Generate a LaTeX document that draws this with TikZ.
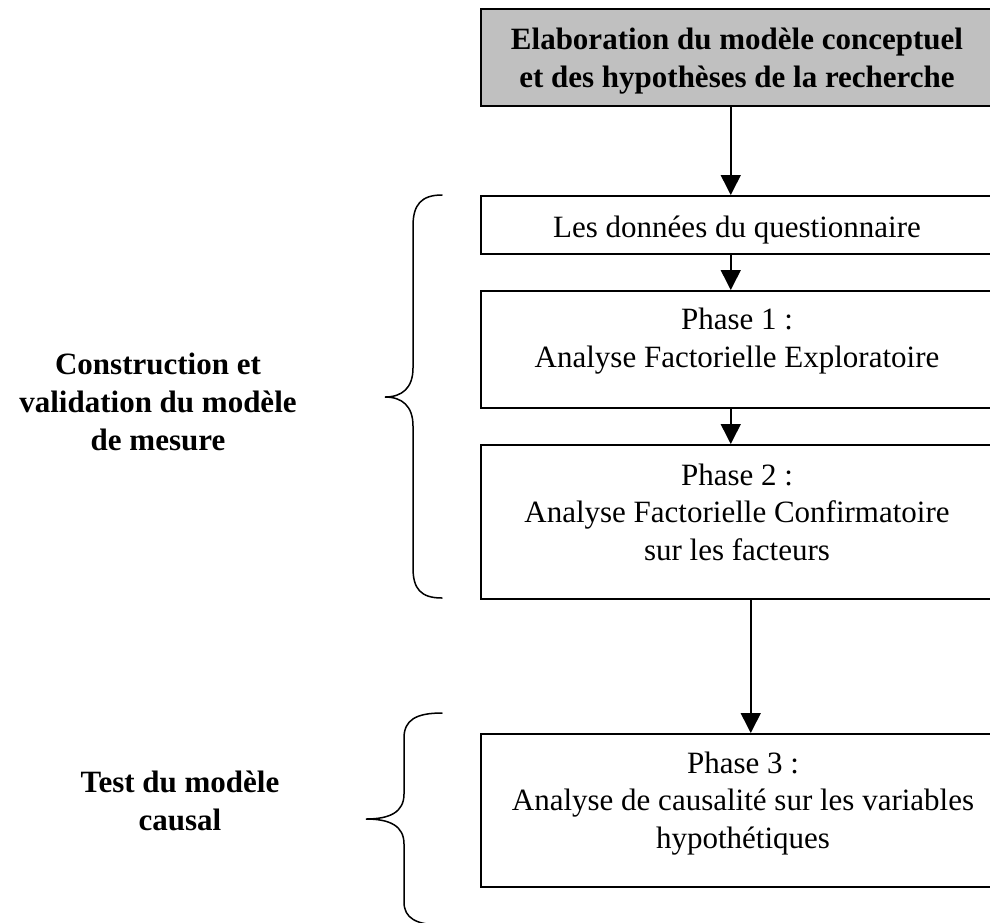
\documentclass[tikz,border=0pt]{standalone}
\usepackage{fontspec}
\setmainfont{Liberation Serif}
\usetikzlibrary{arrows.meta}
\definecolor{boxgray}{RGB}{192,192,192}
\begin{document}
\begin{tikzpicture}[x=1pt,y=-1pt,
  box/.style={draw, line width=1.5pt, rectangle, inner sep=0pt, minimum width=511pt, anchor=north west},
  txt/.style={font=\fontsize{31}{37.5}\selectfont, align=center, inner sep=0pt, anchor=base},
  btxt/.style={font=\fontsize{31}{38}\selectfont\bfseries, align=center, inner sep=0pt, anchor=base},
  arr/.style={line width=1.5pt, -{Triangle[length=20pt,width=20pt]}},
  bracepath/.style={line width=1.5pt, line cap=round}]

\useasboundingbox (0,0) rectangle (990,922);

% boxes
\node[box, fill=boxgray, minimum height=97pt] (b0) at (480,8) {};
\node[box, minimum height=58pt] (b1) at (480,195) {};
\node[box, minimum height=117pt] (b2) at (480,290) {};
\node[box, minimum height=154pt] (b3) at (480,444) {};
\node[box, minimum height=153pt] (b4) at (480,733) {};

% texts in boxes (anchor = baseline of last line)
\node[btxt] (t0) at (737,87) {Elaboration du modèle conceptuel\\et des hypothèses de la recherche};
\node[txt] (t1) at (737,237) {Les données du questionnaire};
\node[txt] (t2) at (737,367) {Phase 1 :\\Analyse Factorielle Exploratoire};
\node[txt] (t3) at (737,560) {Phase 2 :\\Analyse Factorielle Confirmatoire\\sur les facteurs};
\node[txt] (t4) at (743,848) {Phase 3 :\\Analyse de causalité sur les variables\\hypothétiques};

% arrows
\draw[arr] ([xshift=-5.5pt]b0.south) -- ([xshift=-5.5pt]b1.north);
\draw[arr] ([xshift=-5.5pt]b1.south) -- ([xshift=-5.5pt]b2.north);
\draw[arr] ([xshift=-5.5pt]b2.south) -- ([xshift=-5.5pt]b3.north);
\draw[arr] ([xshift=14.5pt]b3.south) -- ([xshift=14.5pt]b4.north);

% braces
\draw[bracepath] (442,195) .. controls (421,195) and (413,205) .. (413,226) -- (413,368)
  .. controls (413,388) and (402,397) .. (385,397)
  .. controls (402,397) and (413,406) .. (413,426) -- (413,568)
  .. controls (413,589) and (421,598) .. (442,598);
\draw[bracepath] (442,713) .. controls (416,713) and (404,720) .. (404,738) -- (404,794)
  .. controls (404,812) and (390,819) .. (366,819)
  .. controls (390,819) and (404,826) .. (404,844) -- (404,902)
  .. controls (404,918) and (416,925) .. (442,925);

% left labels
\node[btxt] (l1) at (158,450) {Construction et\\validation du modèle\\de mesure};
\node[btxt] (l2) at (180,830) {Test du modèle\\causal};
\end{tikzpicture}
\end{document}
